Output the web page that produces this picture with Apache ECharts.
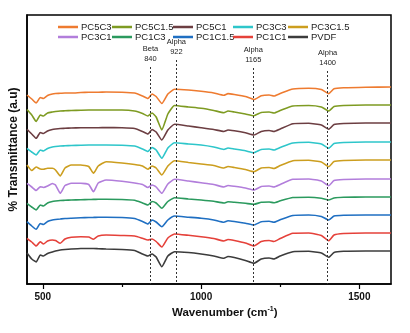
<!DOCTYPE html>
<html>
<head>
<meta charset="utf-8">
<script src="https://cdn.jsdelivr.net/npm/echarts@6/dist/echarts.min.js"></script>
<style>
  html, body { margin: 0; padding: 0; background: #fff; }
  #chart { width: 410px; height: 333px; }
</style>
</head>
<body>
<div id="chart"></div>
<script>
// FTIR spectra, stacked with a vertical offset (arbitrary transmittance units)
const wavenumbers = [450, 465, 479, 492, 502, 515, 530, 540, 555, 570, 590, 620, 645, 660, 675, 700, 750, 790, 815, 832, 845, 858, 876, 895, 916, 960, 1000, 1040, 1072, 1085, 1105, 1140, 1167, 1190, 1215, 1230, 1250, 1290, 1340, 1380, 1403, 1420, 1450, 1520, 1600];

const seriesNames = ['PC5C3', 'PC5C1.5', 'PC5C1', 'PC3C3', 'PC3C1.5', 'PC3C1', 'PC1C3', 'PC1C1.5', 'PC1C1', 'PVDF'];

const PC5C3 = [189, 185, 181, 186.5, 185.5, 188.5, 190, 190.5, 190.7, 191, 191, 191.5, 191.7, 191.8, 191.8, 192, 191.8, 191, 188, 185.5, 190, 187.5, 180.5, 190, 194.7, 194, 192.7, 191, 188.7, 190.4, 189.5, 187.5, 184.5, 188.2, 189, 188, 190.5, 195, 195.8, 194.5, 190.4, 195.2, 196.2, 196.8, 197];
const PC5C1_5 = [174.5, 169, 162.5, 169, 168, 171, 172, 172.5, 173, 173.2, 173.5, 173.8, 174, 174, 174, 174, 174, 173, 170.5, 168, 171, 167, 154, 170, 178.5, 177, 175.7, 173.5, 171.3, 173, 172, 170, 168.3, 171.5, 172, 171, 173.5, 178, 178.5, 177, 173, 177.5, 178.5, 179, 179];
const PC5C1 = [154.7, 150, 145.7, 151.5, 150.5, 153, 154.5, 155, 155.5, 155.7, 156, 156.2, 156.3, 156.3, 156.3, 156.4, 156.2, 155.5, 152.5, 150, 154.5, 152, 144, 154, 159.7, 158, 156.3, 154.5, 152.5, 154, 153.2, 151.2, 149, 152.5, 153.5, 152.5, 155, 160.2, 160.7, 159, 154.7, 159.5, 160.5, 161, 161];
const PC3C3 = [135.7, 132, 129, 134, 133, 135.5, 137, 137.5, 138, 138.2, 138.5, 138.8, 139, 139, 139, 139, 138.8, 138, 135, 132.5, 136.5, 134, 125.7, 136, 141.3, 140, 139, 137, 134.5, 136, 135, 133.2, 131.3, 134.5, 135, 134, 136.5, 141, 141.7, 140, 135.7, 140.5, 141.5, 142, 142];
const PC3C1_5 = [119, 113.5, 117, 115, 114.7, 115.7, 115.7, 114, 108, 116, 119, 119, 117.5, 110.7, 118, 122.3, 121, 119.5, 118, 114.7, 118, 116, 109, 118, 123.3, 121.5, 120, 118.5, 116, 117.5, 116.5, 114.5, 112.3, 116, 116.5, 115.5, 118.5, 123.3, 123.7, 122, 117.3, 122.5, 123.5, 124, 124];
const PC3C1 = [100.7, 97, 93.5, 97.3, 96.5, 98, 100.5, 99, 90.7, 98.5, 100.7, 100.7, 99.5, 92.3, 101, 104, 102.7, 101, 99.5, 96.5, 99, 97, 90.7, 100, 104.7, 103, 101.3, 99.5, 97, 98.5, 97.7, 96, 94, 97.5, 98, 97, 99.5, 104.7, 105, 103, 98.3, 103.5, 104.5, 105, 105];
const PC1C3 = [80.7, 77, 74, 79, 78, 81, 82.5, 83, 83.5, 83.7, 84, 84.3, 84.5, 84.6, 84.7, 84.7, 84.5, 83.7, 81, 79, 82.5, 81, 75.7, 82.5, 86.3, 85, 84, 82.7, 81, 82.2, 81.7, 80.7, 79.7, 81.7, 82, 81.2, 83.2, 86.5, 86.8, 85.8, 84, 86, 86.7, 87, 87];
const PC1C1_5 = [62.3, 58, 54.7, 60.5, 59.5, 62.5, 64, 64.5, 65, 65.5, 65.8, 66.2, 66.5, 66.6, 66.7, 66.7, 66.5, 65.5, 62.5, 60, 64, 62, 57.3, 64, 68, 66.8, 65.7, 64, 61.7, 63.2, 62.5, 60.8, 59, 62.2, 62.7, 61.7, 64.2, 68.5, 69, 67.5, 64, 68, 68.8, 69, 69];
const PC1C1 = [45.7, 42, 38, 42.3, 40, 43, 44, 43.5, 40.7, 45, 46.7, 47.2, 47, 44.7, 48, 49, 48.5, 48, 45.7, 44, 45, 42.5, 37, 46, 50, 48.7, 47.3, 45.5, 43, 44.5, 43.5, 41, 38, 42.5, 43.5, 42.5, 45.5, 50.7, 51, 48.5, 43.3, 49, 50.5, 51, 51];
const PVDF = [31, 25, 22, 29, 28, 30.5, 32, 33, 34, 34.5, 35, 35.5, 35.5, 35.5, 35.3, 35, 34.5, 33.5, 30, 28, 30, 27, 17.3, 28, 32.3, 31.5, 30, 28, 25.7, 27.5, 26.5, 23.5, 20.7, 25, 26, 25, 28, 32.3, 32.7, 31, 26.7, 31.5, 32.7, 33, 33];

// Assigned absorption bands (phase, wavenumber)
const bandNames = ['Beta', 'Alpha', 'Alpha', 'Alpha'];
const bandPositions = [840, 922, 1165, 1400];

const xTickLabels = [500, 1000, 1500];
const xMinorTicks = [750, 1250];

const seriesValues = [PC5C3, PC5C1_5, PC5C1, PC3C3, PC3C1_5, PC3C1, PC1C3, PC1C1_5, PC1C1, PVDF];
const colors = ['#EE7B30', '#7E9B22', '#6C3E42', '#2EC6CA', '#CC9E1F', '#B27EDB', '#2B9A5E', '#1F6FC2', '#E5413A', '#3C3C3C'];

// top of each dotted band marker, in y-axis units
const bandLineTop = [217, 224, 216, 213];

const FONT = 'Liberation Sans, Arial, sans-serif';

const lineSeries = seriesNames.map((name, i) => ({
  name: name,
  type: 'line',
  showSymbol: false,
  symbol: 'none',
  smooth: 0.15,
  color: colors[i],
  lineStyle: { width: 1.6, color: colors[i] },
  data: wavenumbers.map((w, k) => [w, seriesValues[i][k]]),
  z: 3
}));

const bandSeries = {
  name: 'bands',
  type: 'line',
  data: [],
  silent: true,
  markLine: {
    silent: true,
    symbol: ['none', 'none'],
    animation: false,
    lineStyle: { type: [2, 2], color: '#333', width: 1 },
    label: {
      position: 'start',
      distance: 3,
      fontFamily: FONT,
      fontSize: 7.5,
      lineHeight: 10,
      color: '#222',
      align: 'center'
    },
    data: bandPositions.map((w, i) => [
      { coord: [w, bandLineTop[i]], label: { formatter: bandNames[i] + '\n' + w } },
      { coord: [w, 0] }
    ])
  },
  z: 2
};

// legend laid out as five columns of two entries
const legendLefts = [53, 107, 168, 228, 283];
const legends = legendLefts.map((left, c) => ({
  left: left,
  top: 17,
  orient: 'vertical',
  itemWidth: 20,
  itemHeight: 2.5,
  itemGap: 0,
  icon: 'rect',
  selectedMode: false,
  textStyle: { fontFamily: FONT, fontSize: 9.5, color: '#222', lineHeight: 10, padding: [0, 0, 0, -2] },
  data: [seriesNames[c], seriesNames[c + 5]]
}));

const chart = echarts.init(document.getElementById('chart'), null, { renderer: 'canvas' });
chart.setOption({
  animation: false,
  backgroundColor: '#fff',
  grid: { left: 25, top: 15, right: 19, bottom: 49, show: true, borderColor: '#000', borderWidth: 1.5, backgroundColor: 'transparent' },
  legend: legends,
  xAxis: [{
    type: 'value',
    min: 450,
    max: 1600,
    axisLine: { show: true, onZero: false, lineStyle: { color: '#000', width: 1.5 } },
    axisTick: { show: true, inside: false, length: 5, customValues: xTickLabels, lineStyle: { color: '#000', width: 1.2 } },
    axisLabel: { show: true, customValues: xTickLabels, formatter: (v) => String(v), fontFamily: FONT, fontWeight: 'bold', fontSize: 10, color: '#111', margin: 8 },
    splitLine: { show: false }
  }, {
    type: 'value',
    min: 450,
    max: 1600,
    position: 'bottom',
    axisLine: { show: false },
    axisTick: { show: true, inside: false, length: 3, customValues: xMinorTicks, lineStyle: { color: '#000', width: 1.2 } },
    axisLabel: { show: false },
    splitLine: { show: false }
  }],
  yAxis: {
    type: 'value',
    min: 0,
    max: 269,
    name: '% Transmittance (a.u)',
    nameLocation: 'middle',
    nameGap: 7,
    nameTextStyle: { fontFamily: FONT, fontWeight: 'bold', fontSize: 12, color: '#111' },
    axisLine: { show: true, lineStyle: { color: '#000', width: 1.5 } },
    axisTick: { show: false },
    axisLabel: { show: false },
    splitLine: { show: false }
  },
  graphic: [{
    type: 'text',
    left: 172,
    top: 306,
    style: {
      text: 'Wavenumber (cm{sup|-1})',
      fontFamily: FONT,
      fontWeight: 'bold',
      fontSize: 11.5,
      fill: '#111',
      rich: { sup: { fontFamily: FONT, fontWeight: 'bold', fontSize: 7, fill: '#111', verticalAlign: 'top', padding: [0, 0, 6, 0] } }
    }
  }],
  series: lineSeries.concat([bandSeries])
});
</script>
</body>
</html>
